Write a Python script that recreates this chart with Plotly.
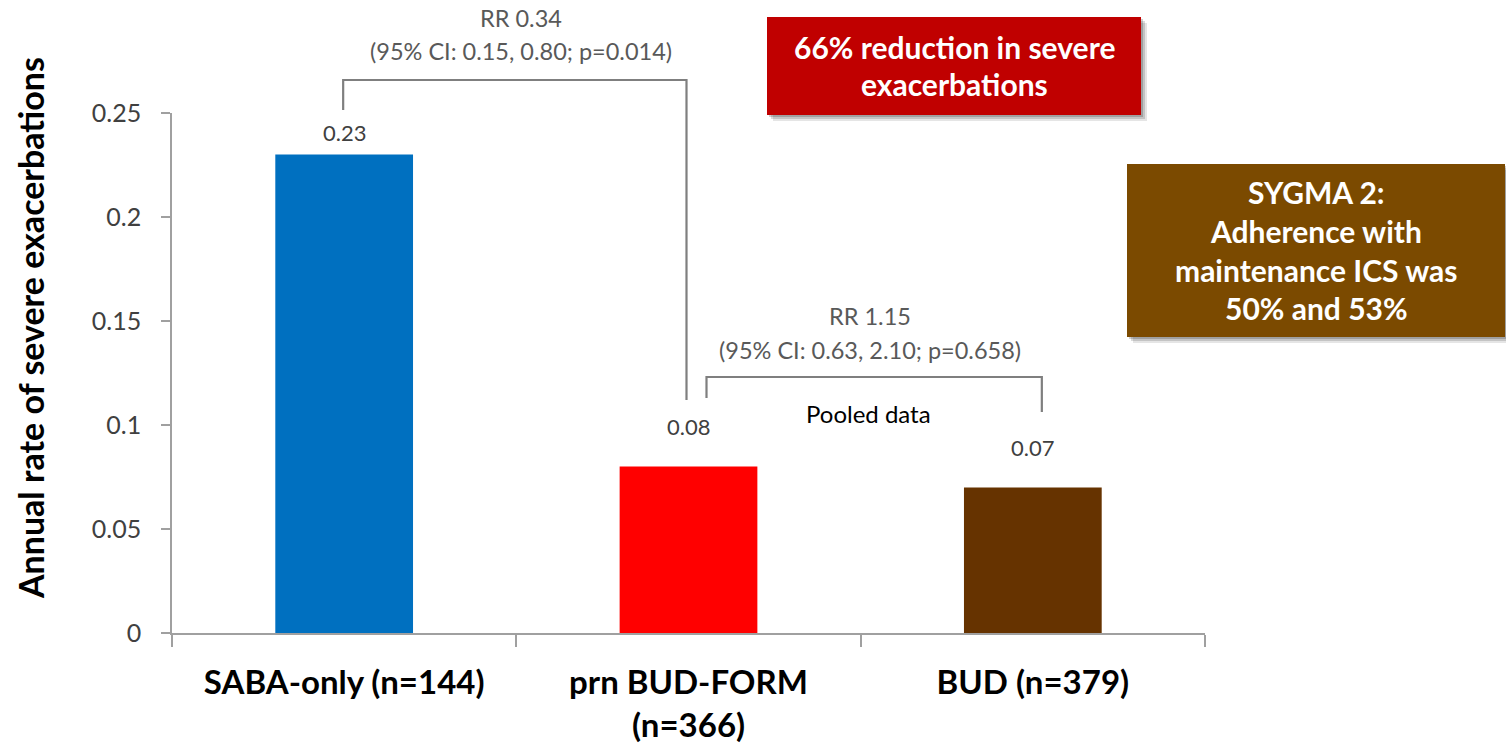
import plotly.graph_objects as go

# ---- data -------------------------------------------------------------
categories = ["SABA-only (n=144)", "prn BUD-FORM<br>(n=366)", "BUD (n=379)"]
rates = [0.23, 0.08, 0.07]
bar_colors = ["#0070C0", "#FF0000", "#663300"]
y_tick_values = [0, 0.05, 0.1, 0.15, 0.2, 0.25]
y_tick_labels = ["0", "0.05", "0.1", "0.15", "0.2", "0.25"]
rr_main = ["RR 0.34", "(95% CI: 0.15, 0.80; p=0.014)"]
rr_pooled = ["RR 1.15", "(95% CI: 0.63, 2.10; p=0.658)"]
reduction_lines = ["66% reduction in severe", "exacerbations"]
sygma_lines = ["SYGMA 2:", "Adherence with", "maintenance ICS was", "50% and 53%"]

# ---- page geometry ----------------------------------------------------
W, H = 1506, 745
ML, MR, MT, MB = 172, 301, 113, 112
PW, PH = W - ML - MR, H - MT - MB
FONT = "Lato"
GREY_TXT = "#595959"
BRACKET = "#7F7F7F"


def fx(px):
    """page pixel x -> paper x"""
    return (px - ML) / PW


def fy(py):
    """page pixel y -> paper y"""
    return (H - MB - py) / PH


def cat_x(i, dx=0):
    """paper x of a category centre, optionally nudged by dx pixels"""
    return (i + 0.5) / len(categories) + dx / PW


def note(px, py, text, size, color, weight="normal", angle=0):
    return dict(x=fx(px), y=fy(py), xref="paper", yref="paper",
                xanchor="center", yanchor="middle", text=text,
                showarrow=False, textangle=angle,
                font=dict(family=FONT, size=size, color=color, weight=weight))


fig = go.Figure(
    go.Bar(
        x=categories,
        y=rates,
        marker=dict(color=bar_colors, line=dict(width=0)),
        width=0.4,
        hoverinfo="skip",
    )
)

annotations = []
shapes = []

# value labels above each bar
label_gap = [7, 25, 24]
for i, v in enumerate(rates):
    annotations.append(dict(
        x=categories[i], y=v, xref="x", yref="y", text=f"{v:.2f}",
        showarrow=False, xanchor="center", yanchor="bottom", yshift=label_gap[i],
        font=dict(family=FONT, size=22, color="#404040"),
    ))


# comparison brackets
def bracket(x0, x1, y_top, y0_bottom, y1_bottom):
    pts = [(x0, y0_bottom), (x0, y_top), (x1, y_top), (x1, y1_bottom)]
    path = "M " + " L ".join(f"{x},{y}" for x, y in pts)
    shapes.append(dict(type="path", path=path, xref="paper", yref="paper",
                       line=dict(color=BRACKET, width=2.2)))


bracket(cat_x(0, -1), cat_x(1, -2), fy(80), fy(110), fy(400))
bracket(cat_x(1, 18), cat_x(2, 9), fy(377), fy(398), fy(412))

for txt, py in zip(rr_main, [18, 51]):
    annotations.append(note(521, py, txt, 23.5, GREY_TXT))
for txt, py in zip(rr_pooled, [316, 350]):
    annotations.append(note(870, py, txt, 23.5, GREY_TXT))
annotations.append(note(868, 413, "Pooled data", 24, "#000000"))

# y axis title
annotations.append(note(30, 328, "Annual rate of severe exacerbations", 34,
                        "#000000", weight="bold", angle=-90))


# call-out boxes with a soft drop shadow
def callout(x0, y0, x1, y1, fill, lines, line_y, size):
    for k, a in enumerate([0.10, 0.14, 0.18]):
        off = 6 - 2 * k
        shapes.append(dict(type="rect", xref="paper", yref="paper",
                           x0=fx(x0 + off), x1=fx(x1 + off),
                           y0=fy(y0 + off), y1=fy(y1 + off),
                           fillcolor=f"rgba(0,0,0,{a})", line=dict(width=0),
                           layer="above"))
    shapes.append(dict(type="rect", xref="paper", yref="paper",
                       x0=fx(x0), x1=fx(x1), y0=fy(y0), y1=fy(y1),
                       fillcolor=fill, line=dict(width=0), layer="above"))
    cx = (x0 + x1) / 2
    for txt, py in zip(lines, line_y):
        annotations.append(note(cx, py, txt, size, "#FFFFFF", weight="bold"))


callout(767, 17, 1141, 115, "#C00000", reduction_lines, [47, 84], 30)
callout(1127, 164, 1505, 337, "#7B4A00", sygma_lines, [192, 231, 270, 308], 30)

fig.update_layout(
    width=W, height=H, autosize=False,
    margin=dict(l=ML, r=MR, t=MT, b=MB, pad=0, autoexpand=False),
    paper_bgcolor="#FFFFFF", plot_bgcolor="#FFFFFF",
    showlegend=False,
    bargap=0.6,
    annotations=annotations,
    shapes=shapes,
    xaxis=dict(
        type="category", automargin=False,
        showline=True, linecolor="#A0A0A0", linewidth=1.5,
        ticks="outside", tickson="boundaries", ticklen=12, tickcolor="#A0A0A0",
        tickwidth=1.5,
        ticklabelstandoff=20,
        tickfont=dict(family=FONT, size=33, color="#000000", weight="bold"),
        showgrid=False, zeroline=False,
    ),
    yaxis=dict(
        range=[0, 0.25], automargin=False,
        tickvals=y_tick_values, ticktext=y_tick_labels,
        showline=True, linecolor="#A0A0A0", linewidth=1.5,
        ticks="outside", ticklen=9, tickcolor="#A0A0A0", tickwidth=1.5,
        ticklabelstandoff=15,
        tickfont=dict(family=FONT, size=25, color="#404040"),
        showgrid=False, zeroline=False,
    ),
)

fig.write_html("out.html")
